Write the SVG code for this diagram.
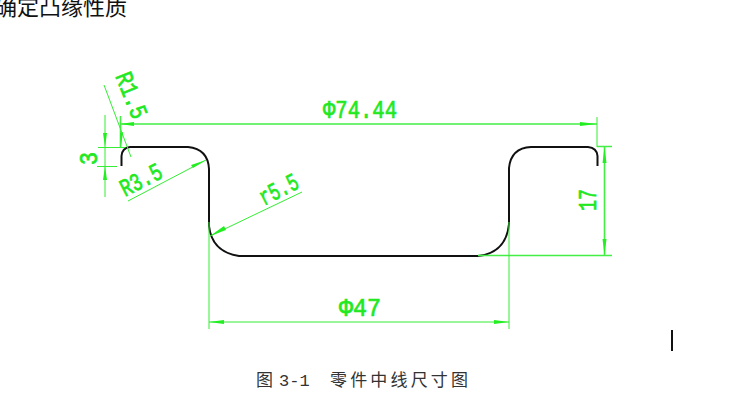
<svg xmlns="http://www.w3.org/2000/svg" width="752" height="409" viewBox="0 0 752 409">
<style>
.g{stroke:#33ee33;stroke-width:1;fill:none}
.h{stroke:#44ee44;stroke-width:1.6;fill:none}
.a{fill:#22ee22;stroke:none}
.p{stroke:#111;stroke-width:2;fill:none}
.d{font-family:"Liberation Mono",monospace;font-size:25px;fill:#22e822;stroke:#22e822;stroke-width:.7}
.t{font-family:"Noto Sans CJK SC",sans-serif;fill:#111}
.c{font-family:"Liberation Mono","Noto Sans CJK SC",monospace;font-size:17px;fill:#333}
</style>
<rect width="752" height="409" fill="#fff"/>
<g id="heading"><text class="t" x="-5" y="15" font-size="22">确定凸缘性质</text></g>
<g id="profile"><path class="p" d="M121.500 166V156Q122 148 130 147H188Q208 149 209 169V226Q212 252 239 256H478Q506 253 509 224V168Q511 148 531 147H588Q597 148 597.500 156V166"/></g>
<g id="connectors">
<path class="h" d="M120 124H597M597 146.500H612M478 255.500H612M604.500 147V255M120.500 116V148"/>
<path class="g" d="M597 117V147M105 115V197M98 147.500H125M97 166.500H117M104 85L131 157M128 201L206 160M302 192L210 236M209 222V329M509 222V329M209 322H509"/>
<path class="a" d="M120 124l14 -2v4zM597 124l-17 -2v4zM604.500 147l-2 16h4zM604.500 255l-2 -16h4zM105 147l-2 -14h4zM105 166l-2 14h4zM121 147l-1 -14 3 -1zM206 160l-15 5 2 3zM210 236l16 -6 -2 -4zM209 322l15 -2v4zM509 322l-15 -2v4z"/>
</g>
<g id="dimensions">
<text class="d" x="323" y="118" textLength="74" lengthAdjust="spacingAndGlyphs">Φ74.44</text>
<text class="d" x="339" y="316" textLength="42" lengthAdjust="spacingAndGlyphs">Φ47</text>
<text class="d" transform="translate(596 211) rotate(-90)" textLength="22" lengthAdjust="spacingAndGlyphs">17</text>
<text class="d" transform="translate(97 165) rotate(-90)" textLength="13" lengthAdjust="spacingAndGlyphs">3</text>
<text class="d" transform="translate(125 197) rotate(-27)" textLength="44" lengthAdjust="spacingAndGlyphs">R3.5</text>
<text class="d" transform="translate(264 206) rotate(-27)" textLength="41" lengthAdjust="spacingAndGlyphs">r5.5</text>
<text class="d" transform="translate(115 76) rotate(68)" textLength="48" lengthAdjust="spacingAndGlyphs">R1.5</text>
</g>
<g id="caption"><text class="c" x="256" y="386">图<tspan x="279">3-1</tspan><tspan x="330" textLength="138">零件中线尺寸图</tspan></text></g>
<g id="cursor"><rect x="671" y="330" width="2" height="21" fill="#111"/></g>
</svg>
